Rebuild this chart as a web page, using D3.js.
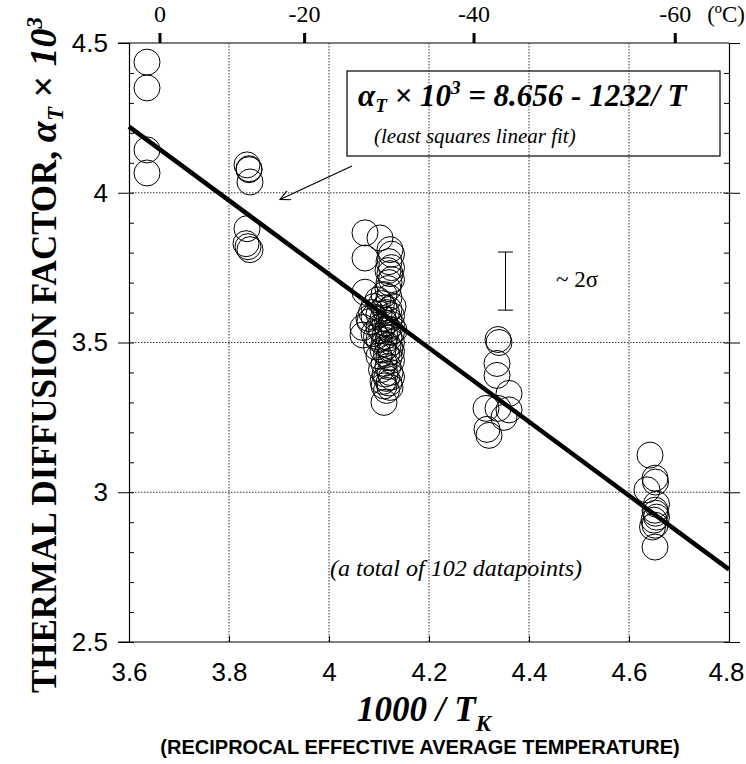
<!DOCTYPE html>
<html>
<head>
<meta charset="utf-8">
<script src="https://cdn.jsdelivr.net/npm/d3@7"></script>
<style>
  body { margin: 0; background: #fff; }
  svg { display: block; }
</style>
</head>
<body>
<svg id="chart" width="746" height="764"></svg>
<script>
// reciprocal temperature (1000/T) and alpha_T x 10^3 for each run
const x_vals = [
  3.636, 3.636, 3.636, 3.636,
  3.836, 3.84, 3.842, 3.836, 3.838, 3.842, 3.834, 3.84,
  4.072, 4.102, 4.072, 4.122, 4.125, 4.12, 4.125, 4.118, 4.122, 4.125,
  4.12, 4.118, 4.072, 4.098, 4.11, 4.12, 4.105, 4.09, 4.11, 4.12,
  4.115, 4.1, 4.125, 4.09, 4.108, 4.12, 4.082, 4.112, 4.125, 4.068,
  4.1, 4.118, 4.105, 4.125, 4.09, 4.068, 4.112, 4.12, 4.1, 4.125,
  4.11, 4.118, 4.095, 4.122, 4.108, 4.125, 4.115, 4.1, 4.12, 4.125,
  4.11, 4.118, 4.105, 4.122, 4.112, 4.125, 4.115, 4.108, 4.12, 4.11,
  4.122, 4.115, 4.11, 4.085, 4.095, 4.128, 4.13, 4.08,
  4.338, 4.34, 4.336, 4.336, 4.36, 4.314, 4.338, 4.36, 4.316, 4.32, 4.35,
  4.642, 4.652, 4.653, 4.636, 4.652, 4.653, 4.655, 4.65, 4.652, 4.647, 4.652, 4.655
];
const y_vals = [
  4.436, 4.35, 4.143, 4.066,
  4.093, 4.077, 4.036, 3.88, 3.82, 3.81, 3.83, 4.08,
  3.866, 3.849, 3.782, 3.81, 3.795, 3.77, 3.75, 3.74, 3.73, 3.71,
  3.70, 3.68, 3.668, 3.642, 3.66, 3.65, 3.63, 3.62, 3.615, 3.61,
  3.60, 3.595, 3.59, 3.585, 3.58, 3.575, 3.57, 3.565, 3.56, 3.55,
  3.55, 3.545, 3.54, 3.535, 3.53, 3.525, 3.52, 3.515, 3.51, 3.50,
  3.495, 3.49, 3.485, 3.48, 3.475, 3.47, 3.46, 3.455, 3.45, 3.44,
  3.43, 3.42, 3.41, 3.40, 3.395, 3.385, 3.38, 3.37, 3.365, 3.355,
  3.35, 3.34, 3.30, 3.60, 3.52, 3.62, 3.54, 3.58,
  3.51, 3.50, 3.43, 3.39, 3.33, 3.28, 3.28, 3.275, 3.21, 3.19, 3.25,
  3.124, 3.047, 3.034, 3.008, 2.94, 2.93, 2.917, 2.907, 2.89, 2.884, 2.817, 2.96
];
const x_ticks = [3.6, 3.8, 4, 4.2, 4.4, 4.6, 4.8];
const y_ticks = [2.5, 3, 3.5, 4, 4.5];
const celsius_ticks = [0, -20, -40, -60];
const fit_a = 8.656, fit_b = 1.232;   // alpha = a - b * (1000/T)
const err_bar = [3.608, 3.802];

const svg = d3.select("#chart");
const mLeft = 129, mRight = 729, mTop = 43, mBottom = 642;

const x = d3.scaleLinear().domain([3.6, 4.8]).range([mLeft, mRight]);
const y = d3.scaleLinear().domain([2.5, 4.5]).range([mBottom, mTop]);

const serif = "'Liberation Serif', 'Times New Roman', serif";
const sans = "'Liberation Sans', Arial, sans-serif";

// dotted grid
svg.append("g")
  .selectAll("line")
  .data(x_ticks.slice(1, -1))
  .join("line")
  .attr("x1", d => x(d)).attr("x2", d => x(d))
  .attr("y1", mTop).attr("y2", mBottom)
  .attr("stroke", "#333").attr("stroke-width", 1)
  .attr("stroke-dasharray", "1.5,1.5");

svg.append("g")
  .selectAll("line")
  .data(y_ticks.slice(1, -1))
  .join("line")
  .attr("x1", mLeft).attr("x2", mRight)
  .attr("y1", d => y(d)).attr("y2", d => y(d))
  .attr("stroke", "#333").attr("stroke-width", 1)
  .attr("stroke-dasharray", "1.5,1.5");

// axes
const minor_y = d3.range(25, 45).map(d => d / 10);

svg.append("g")
  .attr("transform", `translate(${mLeft},0)`)
  .call(d3.axisLeft(y).tickValues(y_ticks).tickSize(11).tickPadding(10)
    .tickFormat(d3.format("")))
  .call(g => g.select(".domain").attr("stroke-width", 1.2))
  .call(g => g.selectAll("text").attr("font-family", sans).attr("font-size", 26).attr("fill", "#000"));

svg.append("g")
  .attr("transform", `translate(${mLeft},0)`)
  .call(d3.axisRight(y).tickValues(minor_y).tickSize(5).tickFormat(""))
  .call(g => g.select(".domain").remove());

svg.append("g")
  .attr("transform", `translate(${mRight},0)`)
  .call(d3.axisRight(y).tickValues(y_ticks).tickSize(11).tickFormat(""))
  .call(g => g.select(".domain").attr("stroke-width", 1.2));

svg.append("g")
  .attr("transform", `translate(${mRight},0)`)
  .call(d3.axisLeft(y).tickValues(minor_y).tickSize(5).tickFormat(""))
  .call(g => g.select(".domain").remove());

svg.append("g")
  .attr("transform", `translate(0,${mBottom})`)
  .call(d3.axisBottom(x).tickValues(x_ticks).tickSize(0).tickPadding(21)
    .tickFormat(d3.format("")))
  .call(g => g.select(".domain").attr("d", `M${mLeft - 11},0H${mRight}`).attr("stroke-width", 1.2))
  .call(g => g.selectAll("text").attr("font-family", sans).attr("font-size", 26).attr("fill", "#000"))
  .call(g => g.selectAll(".tick:last-of-type text").attr("dx", -3));

svg.append("g")
  .attr("transform", `translate(0,${mBottom})`)
  .call(d3.axisTop(x).tickValues(x_ticks).tickSize(6).tickFormat(""))
  .call(g => g.select(".domain").remove());

// top axis in degrees celsius
const toRecip = c => 1000 / (c + 273.15);
svg.append("g")
  .attr("transform", `translate(0,${mTop})`)
  .call(d3.axisTop(x).tickValues(celsius_ticks.map(toRecip)).tickSize(10).tickPadding(11)
    .tickFormat((d, i) => celsius_ticks[i]))
  .call(g => g.select(".domain").attr("d", `M${mLeft - 11},0H${mRight}`).attr("stroke-width", 1.2))
  .call(g => g.selectAll(".tick line").attr("stroke-width", 3))
  .call(g => g.selectAll("text").attr("font-family", serif).attr("font-size", 24).attr("fill", "#000"));

svg.append("text")
  .attr("x", 745).attr("y", 22)
  .attr("text-anchor", "end")
  .attr("font-family", serif).attr("font-size", 23)
  .text("(ºC)");

// data points
svg.append("g")
  .selectAll("circle")
  .data(x_vals.map((d, i) => [d, y_vals[i]]))
  .join("circle")
  .attr("cx", d => x(d[0]))
  .attr("cy", d => y(d[1]))
  .attr("r", 13)
  .attr("fill", "none")
  .attr("stroke", "#000")
  .attr("stroke-width", 1);

// fit line
svg.append("line")
  .attr("x1", x(3.6)).attr("y1", y(fit_a - fit_b * 3.6))
  .attr("x2", x(4.8)).attr("y2", y(fit_a - fit_b * 4.8))
  .attr("stroke", "#000").attr("stroke-width", 4.5);

// error bar
const ebx = x(4.353);
svg.append("path")
  .attr("d", `M${ebx},${y(err_bar[0])}V${y(err_bar[1])}M${ebx - 7.5},${y(err_bar[0])}H${ebx + 7.5}M${ebx - 7.5},${y(err_bar[1])}H${ebx + 7.5}`)
  .attr("stroke", "#000").attr("stroke-width", 1).attr("fill", "none");

svg.append("text")
  .attr("x", 556).attr("y", 287)
  .attr("font-family", serif).attr("font-size", 23)
  .text("~ 2σ");

// equation box
svg.append("rect")
  .attr("x", 347).attr("y", 71).attr("width", 373).attr("height", 85)
  .attr("fill", "none").attr("stroke", "#000").attr("stroke-width", 1.2);

const eq = svg.append("text")
  .attr("x", 358).attr("y", 106)
  .attr("font-family", serif).attr("font-size", 31)
  .attr("font-weight", "bold").attr("font-style", "italic");
eq.append("tspan").text("α");
eq.append("tspan").attr("font-size", 19).attr("dy", 6).text("T");
eq.append("tspan").attr("dy", -6).text(" × 10");
eq.append("tspan").attr("font-size", 19).attr("dy", -12).text("3");
eq.append("tspan").attr("dy", 12).text(" = 8.656 - 1232/ T");

svg.append("text")
  .attr("x", 374).attr("y", 143)
  .attr("font-family", serif).attr("font-size", 21)
  .attr("font-style", "italic")
  .text("(least squares linear fit)");

// arrow
svg.append("defs").append("marker")
  .attr("id", "head")
  .attr("viewBox", "0 0 10 10")
  .attr("refX", 9).attr("refY", 5)
  .attr("markerWidth", 13).attr("markerHeight", 10)
  .attr("markerUnits", "userSpaceOnUse")
  .attr("orient", "auto")
  .append("path")
  .attr("d", "M0,0L10,5L0,10")
  .attr("fill", "none").attr("stroke", "#000").attr("stroke-width", 1.2);

svg.append("line")
  .attr("x1", 352).attr("y1", 166)
  .attr("x2", 281).attr("y2", 199)
  .attr("stroke", "#000").attr("stroke-width", 1.2)
  .attr("marker-end", "url(#head)");

svg.append("text")
  .attr("x", 456).attr("y", 576)
  .attr("text-anchor", "middle")
  .attr("font-family", serif).attr("font-size", 24)
  .attr("font-style", "italic")
  .text("(a total of 102 datapoints)");

// axis titles
const xt = svg.append("text")
  .attr("x", 424).attr("y", 721)
  .attr("text-anchor", "middle")
  .attr("font-family", serif).attr("font-size", 35)
  .attr("font-weight", "bold").attr("font-style", "italic");
xt.append("tspan").text("1000 / T");
xt.append("tspan").attr("font-size", 23).attr("dy", 10).text("K");

svg.append("text")
  .attr("x", 420).attr("y", 754)
  .attr("text-anchor", "middle")
  .attr("font-family", sans).attr("font-size", 20)
  .attr("font-weight", "bold")
  .text("(RECIPROCAL EFFECTIVE AVERAGE TEMPERATURE)");

const yt = svg.append("text")
  .attr("transform", "translate(56,355) rotate(-90)")
  .attr("text-anchor", "middle")
  .attr("font-family", serif).attr("font-size", 35)
  .attr("font-weight", "bold");
yt.append("tspan").text("THERMAL DIFFUSION FACTOR, ");
yt.append("tspan").attr("font-style", "italic").attr("font-size", 38).text("α");
yt.append("tspan").attr("font-style", "italic").attr("font-size", 23).attr("dy", 7).text("T");
yt.append("tspan").attr("dy", -7).attr("font-size", 38).text(" × ");
yt.append("tspan").attr("font-style", "italic").attr("font-size", 38).text("10");
yt.append("tspan").attr("font-style", "italic").attr("font-size", 23).attr("dy", -14).text("3");
</script>
</body>
</html>
